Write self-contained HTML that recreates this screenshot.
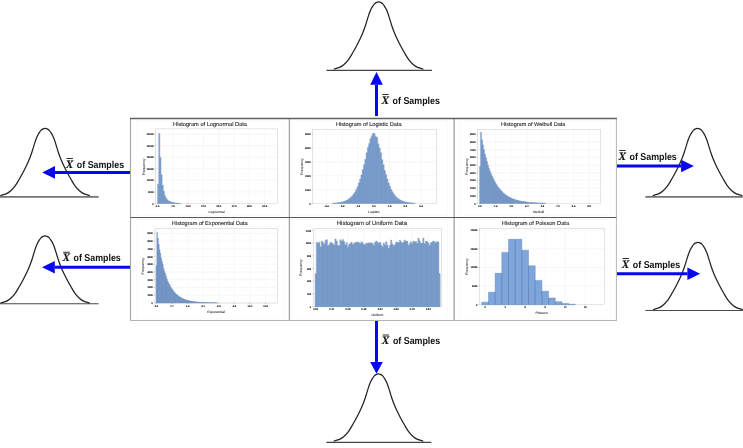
<!DOCTYPE html>
<html><head><meta charset="utf-8"><title>Central Limit Theorem diagram</title>
<style>html,body{margin:0;padding:0;background:#fff;overflow:hidden}svg{display:block}</style>
</head><body>
<svg width="743" height="448" viewBox="0 0 743 448" font-family='"Liberation Sans", sans-serif' text-rendering="geometricPrecision">
<defs><filter id="soft" x="0" y="0" width="100%" height="100%" filterUnits="userSpaceOnUse" color-interpolation-filters="sRGB"><feGaussianBlur stdDeviation="0.35"/></filter><filter id="soft2" x="0" y="0" width="100%" height="100%" filterUnits="userSpaceOnUse" color-interpolation-filters="sRGB"><feGaussianBlur stdDeviation="0.3"/></filter></defs>
<rect width="743" height="448" fill="#fff"/>
<g filter="url(#soft)">
<path d="M326.5 70.4H432" stroke="#444" stroke-width="1.1"/>
<path d="M334.3 69C335.18 68.73 337.98 68.15 339.6 67.4C341.22 66.65 342.52 65.8 344 64.5C345.48 63.2 347.05 61.55 348.5 59.6C349.95 57.65 351.37 55.07 352.7 52.8C354.03 50.53 355.3 48.25 356.5 46C357.7 43.75 358.83 41.55 359.9 39.3C360.97 37.05 361.98 34.77 362.9 32.5C363.82 30.23 364.63 27.97 365.4 25.7C366.17 23.43 366.97 20.62 367.5 18.9C368.03 17.18 368.23 16.52 368.6 15.4C368.97 14.28 369.28 13.27 369.7 12.2C370.12 11.13 370.58 10.02 371.1 9C371.62 7.98 372.25 6.95 372.8 6.1C373.35 5.25 373.85 4.48 374.4 3.9C374.95 3.32 375.4 2.93 376.1 2.6C376.8 2.27 377.77 1.9 378.6 1.9C379.43 1.9 380.4 2.27 381.1 2.6C381.8 2.93 382.25 3.32 382.8 3.9C383.35 4.48 383.85 5.25 384.4 6.1C384.95 6.95 385.58 7.98 386.1 9C386.62 10.02 387.08 11.13 387.5 12.2C387.92 13.27 388.23 14.28 388.6 15.4C388.97 16.52 389.17 17.18 389.7 18.9C390.23 20.62 391.03 23.43 391.8 25.7C392.57 27.97 393.38 30.23 394.3 32.5C395.22 34.77 396.23 37.05 397.3 39.3C398.37 41.55 399.5 43.75 400.7 46C401.9 48.25 403.17 50.53 404.5 52.8C405.83 55.07 407.25 57.65 408.7 59.6C410.15 61.55 411.72 63.2 413.2 64.5C414.68 65.8 415.98 66.65 417.6 67.4C419.22 68.15 422.02 68.73 422.9 69" fill="none" stroke="#222" stroke-width="1.25" stroke-linecap="round" stroke-linejoin="round"/>
<path d="M326.3 442.4H431.4" stroke="#444" stroke-width="1.1"/>
<path d="M334.2 441C335.08 440.73 337.88 440.15 339.5 439.4C341.12 438.65 342.42 437.8 343.9 436.5C345.38 435.2 346.95 433.55 348.4 431.6C349.85 429.65 351.27 427.07 352.6 424.8C353.93 422.53 355.2 420.25 356.4 418C357.6 415.75 358.73 413.55 359.8 411.3C360.87 409.05 361.88 406.77 362.8 404.5C363.72 402.23 364.53 399.97 365.3 397.7C366.07 395.43 366.87 392.62 367.4 390.9C367.93 389.18 368.13 388.52 368.5 387.4C368.87 386.28 369.18 385.27 369.6 384.2C370.02 383.13 370.48 382.02 371 381C371.52 379.98 372.15 378.95 372.7 378.1C373.25 377.25 373.75 376.48 374.3 375.9C374.85 375.32 375.3 374.93 376 374.6C376.7 374.27 377.67 373.9 378.5 373.9C379.33 373.9 380.3 374.27 381 374.6C381.7 374.93 382.15 375.32 382.7 375.9C383.25 376.48 383.75 377.25 384.3 378.1C384.85 378.95 385.48 379.98 386 381C386.52 382.02 386.98 383.13 387.4 384.2C387.82 385.27 388.13 386.28 388.5 387.4C388.87 388.52 389.07 389.18 389.6 390.9C390.13 392.62 390.93 395.43 391.7 397.7C392.47 399.97 393.28 402.23 394.2 404.5C395.12 406.77 396.13 409.05 397.2 411.3C398.27 413.55 399.4 415.75 400.6 418C401.8 420.25 403.07 422.53 404.4 424.8C405.73 427.07 407.15 429.65 408.6 431.6C410.05 433.55 411.62 435.2 413.1 436.5C414.58 437.8 415.88 438.65 417.5 439.4C419.12 440.15 421.92 440.73 422.8 441" fill="none" stroke="#222" stroke-width="1.25" stroke-linecap="round" stroke-linejoin="round"/>
<path d="M0 196.8H98.6" stroke="#747474" stroke-width="1.8"/>
<path d="M0.8 195.5C1.68 195.23 4.48 194.65 6.1 193.9C7.72 193.15 9.02 192.3 10.5 191C11.98 189.7 13.55 188.05 15 186.1C16.45 184.15 17.87 181.57 19.2 179.3C20.53 177.03 21.8 174.75 23 172.5C24.2 170.25 25.33 168.05 26.4 165.8C27.47 163.55 28.48 161.27 29.4 159C30.32 156.73 31.13 154.47 31.9 152.2C32.67 149.93 33.47 147.12 34 145.4C34.53 143.68 34.73 143.02 35.1 141.9C35.47 140.78 35.78 139.77 36.2 138.7C36.62 137.63 37.08 136.52 37.6 135.5C38.12 134.48 38.75 133.45 39.3 132.6C39.85 131.75 40.35 130.98 40.9 130.4C41.45 129.82 41.9 129.43 42.6 129.1C43.3 128.77 44.27 128.4 45.1 128.4C45.93 128.4 46.9 128.77 47.6 129.1C48.3 129.43 48.75 129.82 49.3 130.4C49.85 130.98 50.35 131.75 50.9 132.6C51.45 133.45 52.08 134.48 52.6 135.5C53.12 136.52 53.58 137.63 54 138.7C54.42 139.77 54.73 140.78 55.1 141.9C55.47 143.02 55.67 143.68 56.2 145.4C56.73 147.12 57.53 149.93 58.3 152.2C59.07 154.47 59.88 156.73 60.8 159C61.72 161.27 62.73 163.55 63.8 165.8C64.87 168.05 66 170.25 67.2 172.5C68.4 174.75 69.67 177.03 71 179.3C72.33 181.57 73.75 184.15 75.2 186.1C76.65 188.05 78.22 189.7 79.7 191C81.18 192.3 82.48 193.15 84.1 193.9C85.72 194.65 88.52 195.23 89.4 195.5" fill="none" stroke="#222" stroke-width="1.25" stroke-linecap="round" stroke-linejoin="round"/>
<path d="M0 303.8H98.6" stroke="#4a4a4a" stroke-width="1.1"/>
<path d="M0.8 303C1.68 302.73 4.48 302.15 6.1 301.4C7.72 300.65 9.02 299.8 10.5 298.5C11.98 297.2 13.55 295.55 15 293.6C16.45 291.65 17.87 289.07 19.2 286.8C20.53 284.53 21.8 282.25 23 280C24.2 277.75 25.33 275.55 26.4 273.3C27.47 271.05 28.48 268.77 29.4 266.5C30.32 264.23 31.13 261.97 31.9 259.7C32.67 257.43 33.47 254.62 34 252.9C34.53 251.18 34.73 250.52 35.1 249.4C35.47 248.28 35.78 247.27 36.2 246.2C36.62 245.13 37.08 244.02 37.6 243C38.12 241.98 38.75 240.95 39.3 240.1C39.85 239.25 40.35 238.48 40.9 237.9C41.45 237.32 41.9 236.93 42.6 236.6C43.3 236.27 44.27 235.9 45.1 235.9C45.93 235.9 46.9 236.27 47.6 236.6C48.3 236.93 48.75 237.32 49.3 237.9C49.85 238.48 50.35 239.25 50.9 240.1C51.45 240.95 52.08 241.98 52.6 243C53.12 244.02 53.58 245.13 54 246.2C54.42 247.27 54.73 248.28 55.1 249.4C55.47 250.52 55.67 251.18 56.2 252.9C56.73 254.62 57.53 257.43 58.3 259.7C59.07 261.97 59.88 264.23 60.8 266.5C61.72 268.77 62.73 271.05 63.8 273.3C64.87 275.55 66 277.75 67.2 280C68.4 282.25 69.67 284.53 71 286.8C72.33 289.07 73.75 291.65 75.2 293.6C76.65 295.55 78.22 297.2 79.7 298.5C81.18 299.8 82.48 300.65 84.1 301.4C85.72 302.15 88.52 302.73 89.4 303" fill="none" stroke="#222" stroke-width="1.25" stroke-linecap="round" stroke-linejoin="round"/>
<path d="M645.4 196.8H743" stroke="#747474" stroke-width="1.8"/>
<path d="M653.2 195.5C654.08 195.23 656.88 194.65 658.5 193.9C660.12 193.15 661.42 192.3 662.9 191C664.38 189.7 665.95 188.05 667.4 186.1C668.85 184.15 670.27 181.57 671.6 179.3C672.93 177.03 674.2 174.75 675.4 172.5C676.6 170.25 677.73 168.05 678.8 165.8C679.87 163.55 680.88 161.27 681.8 159C682.72 156.73 683.53 154.47 684.3 152.2C685.07 149.93 685.87 147.12 686.4 145.4C686.93 143.68 687.13 143.02 687.5 141.9C687.87 140.78 688.18 139.77 688.6 138.7C689.02 137.63 689.48 136.52 690 135.5C690.52 134.48 691.15 133.45 691.7 132.6C692.25 131.75 692.75 130.98 693.3 130.4C693.85 129.82 694.3 129.43 695 129.1C695.7 128.77 696.67 128.4 697.5 128.4C698.33 128.4 699.3 128.77 700 129.1C700.7 129.43 701.15 129.82 701.7 130.4C702.25 130.98 702.75 131.75 703.3 132.6C703.85 133.45 704.48 134.48 705 135.5C705.52 136.52 705.98 137.63 706.4 138.7C706.82 139.77 707.13 140.78 707.5 141.9C707.87 143.02 708.07 143.68 708.6 145.4C709.13 147.12 709.93 149.93 710.7 152.2C711.47 154.47 712.28 156.73 713.2 159C714.12 161.27 715.13 163.55 716.2 165.8C717.27 168.05 718.4 170.25 719.6 172.5C720.8 174.75 722.07 177.03 723.4 179.3C724.73 181.57 726.15 184.15 727.6 186.1C729.05 188.05 730.62 189.7 732.1 191C733.58 192.3 734.88 193.15 736.5 193.9C738.12 194.65 740.92 195.23 741.8 195.5" fill="none" stroke="#222" stroke-width="1.25" stroke-linecap="round" stroke-linejoin="round"/>
<path d="M645.4 310.5H743" stroke="#4a4a4a" stroke-width="1.1"/>
<path d="M653.6 309.5C654.48 309.23 657.28 308.65 658.9 307.9C660.52 307.15 661.82 306.3 663.3 305C664.78 303.7 666.35 302.05 667.8 300.1C669.25 298.15 670.67 295.57 672 293.3C673.33 291.03 674.6 288.75 675.8 286.5C677 284.25 678.13 282.05 679.2 279.8C680.27 277.55 681.28 275.27 682.2 273C683.12 270.73 683.93 268.47 684.7 266.2C685.47 263.93 686.27 261.12 686.8 259.4C687.33 257.68 687.53 257.02 687.9 255.9C688.27 254.78 688.58 253.77 689 252.7C689.42 251.63 689.88 250.52 690.4 249.5C690.92 248.48 691.55 247.45 692.1 246.6C692.65 245.75 693.15 244.98 693.7 244.4C694.25 243.82 694.7 243.43 695.4 243.1C696.1 242.77 697.07 242.4 697.9 242.4C698.73 242.4 699.7 242.77 700.4 243.1C701.1 243.43 701.55 243.82 702.1 244.4C702.65 244.98 703.15 245.75 703.7 246.6C704.25 247.45 704.88 248.48 705.4 249.5C705.92 250.52 706.38 251.63 706.8 252.7C707.22 253.77 707.53 254.78 707.9 255.9C708.27 257.02 708.47 257.68 709 259.4C709.53 261.12 710.33 263.93 711.1 266.2C711.87 268.47 712.68 270.73 713.6 273C714.52 275.27 715.53 277.55 716.6 279.8C717.67 282.05 718.8 284.25 720 286.5C721.2 288.75 722.47 291.03 723.8 293.3C725.13 295.57 726.55 298.15 728 300.1C729.45 302.05 731.02 303.7 732.5 305C733.98 306.3 735.28 307.15 736.9 307.9C738.52 308.65 741.32 309.23 742.2 309.5" fill="none" stroke="#222" stroke-width="1.25" stroke-linecap="round" stroke-linejoin="round"/>
<rect x="130.5" y="118.5" width="485.9" height="202.0" fill="#fff" stroke="none"/>
<rect x="136.2" y="120.5" width="147.3" height="95" fill="#fff" stroke="#f7f7f7" stroke-width="0.6"/>
<rect x="155.7" y="128.9" width="121.6" height="74.6" fill="#fff" stroke="#c8c8c8" stroke-width="0.5"/>
<path d="M157.6 128.9V203.5M172.9 128.9V203.5M188.2 128.9V203.5M203.5 128.9V203.5M218.8 128.9V203.5M234.1 128.9V203.5M249.4 128.9V203.5M264.7 128.9V203.5M155.7 203.5H277.3M155.7 191.93H277.3M155.7 180.37H277.3M155.7 168.8H277.3M155.7 157.23H277.3M155.7 145.67H277.3M155.7 134.1H277.3" stroke="#ededed" stroke-width="0.45" fill="none"/>
<path d="M157.6 203.5V184.3H158.75V203.5ZM158.75 203.5V133.41H159.9V203.5ZM159.9 203.5V157.46H161.05V203.5ZM161.05 203.5V174.81H162.2V203.5ZM162.2 203.5V185.22H163.35V203.5ZM163.35 203.5V191.35H164.5V203.5ZM164.5 203.5V195.63H165.65V203.5ZM165.65 203.5V198.18H166.8V203.5ZM166.8 203.5V199.68H167.95V203.5ZM167.95 203.5V200.72H169.1V203.5ZM169.1 203.5V201.42H170.25V203.5ZM170.25 203.5V201.88H171.4V203.5ZM171.4 203.5V202.23H172.55V203.5ZM172.55 203.5V202.51H173.7V203.5ZM173.7 203.5V202.71H174.85V203.5ZM174.85 203.5V202.88H176V203.5ZM176 203.5V203.01H177.15V203.5ZM177.15 203.5V203.11H178.3V203.5ZM178.3 203.5V203.19H179.45V203.5ZM179.45 203.5V203.26H180.6V203.5Z" fill="#86aad9" stroke="#6e8dbb" stroke-width="0.38" stroke-linejoin="miter"/>
<path d="M157.6 203.5v1M172.9 203.5v1M188.2 203.5v1M203.5 203.5v1M218.8 203.5v1M234.1 203.5v1M249.4 203.5v1M264.7 203.5v1M155.7 203.5h-1M155.7 191.93h-1M155.7 180.37h-1M155.7 168.8h-1M155.7 157.23h-1M155.7 145.67h-1M155.7 134.1h-1" stroke="#777" stroke-width="0.4" fill="none"/>
<g font-size="2.5" fill="#111" stroke="#111" stroke-width="0.1" font-weight="bold">
<text x="157.6" y="207" text-anchor="middle">0.0</text>
<text x="172.9" y="207" text-anchor="middle">7.5</text>
<text x="188.2" y="207" text-anchor="middle">15.0</text>
<text x="203.5" y="207" text-anchor="middle">22.5</text>
<text x="218.8" y="207" text-anchor="middle">30.0</text>
<text x="234.1" y="207" text-anchor="middle">37.5</text>
<text x="249.4" y="207" text-anchor="middle">45.0</text>
<text x="264.7" y="207" text-anchor="middle">52.5</text>
<text x="153.7" y="204.5" text-anchor="end">0</text>
<text x="153.7" y="192.93" text-anchor="end">5000</text>
<text x="153.7" y="181.37" text-anchor="end">10000</text>
<text x="153.7" y="169.8" text-anchor="end">15000</text>
<text x="153.7" y="158.23" text-anchor="end">20000</text>
<text x="153.7" y="146.67" text-anchor="end">25000</text>
<text x="153.7" y="135.1" text-anchor="end">30000</text>
</g>
<text x="210" y="126" text-anchor="middle" font-size="5.66" fill="#2e2e2e" stroke="#2e2e2e" stroke-width="0.12">Histogram of Lognormal Data</text>
<text x="216.5" y="213.2" text-anchor="middle" font-size="3.4" fill="#222" stroke="#222" stroke-width="0.06">Lognormal</text>
<text transform="translate(144.6 166.8) rotate(-90)" text-anchor="middle" font-size="3.55" fill="#222" stroke="#222" stroke-width="0.06">Frequency</text>
<rect x="292.5" y="120.5" width="155" height="95" fill="#fff" stroke="#f7f7f7" stroke-width="0.6"/>
<rect x="312.6" y="129.2" width="123.7" height="74.2" fill="#fff" stroke="#c8c8c8" stroke-width="0.5"/>
<path d="M326.49 129.2V203.4M342.26 129.2V203.4M358.03 129.2V203.4M373.8 129.2V203.4M389.57 129.2V203.4M405.34 129.2V203.4M421.11 129.2V203.4M312.6 203.5H436.3M312.6 189.62H436.3M312.6 175.74H436.3M312.6 161.86H436.3M312.6 147.98H436.3M312.6 134.1H436.3" stroke="#ededed" stroke-width="0.45" fill="none"/>
<path d="M332.35 203.4V203.16H333.64V203.4ZM333.64 203.4V203.07H334.94V203.4ZM334.94 203.4V202.98H336.23V203.4ZM336.23 203.4V202.86H337.53V203.4ZM337.53 203.4V202.7H338.82V203.4ZM338.82 203.4V202.54H340.12V203.4ZM340.12 203.4V202.28H341.42V203.4ZM341.42 203.4V202.02H342.71V203.4ZM342.71 203.4V201.69H344.01V203.4ZM344.01 203.4V201.27H345.3V203.4ZM345.3 203.4V200.73H346.6V203.4ZM346.6 203.4V200.02H347.89V203.4ZM347.89 203.4V199.32H349.19V203.4ZM349.19 203.4V198.29H350.48V203.4ZM350.48 203.4V197.09H351.78V203.4ZM351.78 203.4V195.74H353.07V203.4ZM353.07 203.4V193.97H354.37V203.4ZM354.37 203.4V192.13H355.66V203.4ZM355.66 203.4V189.71H356.96V203.4ZM356.96 203.4V186.77H358.26V203.4ZM358.26 203.4V183.04H359.55V203.4ZM359.55 203.4V179.35H360.85V203.4ZM360.85 203.4V175.08H362.14V203.4ZM362.14 203.4V169.84H363.44V203.4ZM363.44 203.4V164.7H364.73V203.4ZM364.73 203.4V159.39H366.03V203.4ZM366.03 203.4V152.77H367.32V203.4ZM367.32 203.4V147.44H368.62V203.4ZM368.62 203.4V143.53H369.91V203.4ZM369.91 203.4V138.6H371.21V203.4ZM371.21 203.4V135.77H372.5V203.4ZM372.5 203.4V133.26H373.8V203.4ZM373.8 203.4V133.66H375.1V203.4ZM375.1 203.4V136.41H376.39V203.4ZM376.39 203.4V137.55H377.69V203.4ZM377.69 203.4V143.84H378.98V203.4ZM378.98 203.4V148.06H380.28V203.4ZM380.28 203.4V152.84H381.57V203.4ZM381.57 203.4V159.65H382.87V203.4ZM382.87 203.4V164.65H384.16V203.4ZM384.16 203.4V170.57H385.46V203.4ZM385.46 203.4V174.67H386.75V203.4ZM386.75 203.4V179.03H388.05V203.4ZM388.05 203.4V183.12H389.34V203.4ZM389.34 203.4V186.31H390.64V203.4ZM390.64 203.4V189.57H391.94V203.4ZM391.94 203.4V191.83H393.23V203.4ZM393.23 203.4V193.95H394.53V203.4ZM394.53 203.4V195.68H395.82V203.4ZM395.82 203.4V197.14H397.12V203.4ZM397.12 203.4V198.23H398.41V203.4ZM398.41 203.4V199.19H399.71V203.4ZM399.71 203.4V200.06H401V203.4ZM401 203.4V200.69H402.3V203.4ZM402.3 203.4V201.27H403.59V203.4ZM403.59 203.4V201.65H404.89V203.4ZM404.89 203.4V202H406.18V203.4ZM406.18 203.4V202.27H407.48V203.4ZM407.48 203.4V202.51H408.78V203.4ZM408.78 203.4V202.72H410.07V203.4ZM410.07 203.4V202.86H411.37V203.4ZM411.37 203.4V202.98H412.66V203.4ZM412.66 203.4V203.09H413.96V203.4ZM413.96 203.4V203.16H415.25V203.4Z" fill="#86aad9" stroke="#6e8dbb" stroke-width="0.38" stroke-linejoin="miter"/>
<path d="M326.49 203.4v1M342.26 203.4v1M358.03 203.4v1M373.8 203.4v1M389.57 203.4v1M405.34 203.4v1M421.11 203.4v1M312.6 203.5h-1M312.6 189.62h-1M312.6 175.74h-1M312.6 161.86h-1M312.6 147.98h-1M312.6 134.1h-1" stroke="#777" stroke-width="0.4" fill="none"/>
<g font-size="2.5" fill="#111" stroke="#111" stroke-width="0.1" font-weight="bold">
<text x="326.49" y="206.9" text-anchor="middle">-8.4</text>
<text x="342.26" y="206.9" text-anchor="middle">-5.6</text>
<text x="358.03" y="206.9" text-anchor="middle">-2.8</text>
<text x="373.8" y="206.9" text-anchor="middle">0.0</text>
<text x="389.57" y="206.9" text-anchor="middle">2.8</text>
<text x="405.34" y="206.9" text-anchor="middle">5.6</text>
<text x="421.11" y="206.9" text-anchor="middle">8.4</text>
<text x="310.6" y="204.5" text-anchor="end">0</text>
<text x="310.6" y="190.62" text-anchor="end">1000</text>
<text x="310.6" y="176.74" text-anchor="end">2000</text>
<text x="310.6" y="162.86" text-anchor="end">3000</text>
<text x="310.6" y="148.98" text-anchor="end">4000</text>
<text x="310.6" y="135.1" text-anchor="end">5000</text>
</g>
<text x="368.8" y="126" text-anchor="middle" font-size="5.6" fill="#2e2e2e" stroke="#2e2e2e" stroke-width="0.12">Histogram of Logistic Data</text>
<text x="374" y="213.2" text-anchor="middle" font-size="3.4" fill="#222" stroke="#222" stroke-width="0.06">Logistic</text>
<text transform="translate(302.5 166.5) rotate(-90)" text-anchor="middle" font-size="3.55" fill="#222" stroke="#222" stroke-width="0.06">Frequency</text>
<rect x="459.5" y="120.5" width="151" height="95" fill="#fff" stroke="#f7f7f7" stroke-width="0.6"/>
<rect x="477.6" y="129.4" width="122.8" height="74" fill="#fff" stroke="#c8c8c8" stroke-width="0.5"/>
<path d="M480 129.4V203.4M495.6 129.4V203.4M511.2 129.4V203.4M526.8 129.4V203.4M542.4 129.4V203.4M558 129.4V203.4M573.6 129.4V203.4M589.2 129.4V203.4M477.6 203.5H600.4M477.6 195.79H600.4M477.6 188.08H600.4M477.6 180.37H600.4M477.6 172.66H600.4M477.6 164.94H600.4M477.6 157.23H600.4M477.6 149.52H600.4M477.6 141.81H600.4M477.6 134.1H600.4" stroke="#ededed" stroke-width="0.45" fill="none"/>
<path d="M479.5 203.4V166.49H480.5V203.4ZM480.5 203.4V132.37H481.5V203.4ZM481.5 203.4V139.72H482.51V203.4ZM482.51 203.4V144.86H483.51V203.4ZM483.51 203.4V149.55H484.51V203.4ZM484.51 203.4V153.94H485.52V203.4ZM485.52 203.4V157.62H486.52V203.4ZM486.52 203.4V161.23H487.52V203.4ZM487.52 203.4V165.05H488.52V203.4ZM488.52 203.4V168.45H489.53V203.4ZM489.53 203.4V170.9H490.53V203.4ZM490.53 203.4V173.6H491.53V203.4ZM491.53 203.4V175.87H492.54V203.4ZM492.54 203.4V177.82H493.54V203.4ZM493.54 203.4V180.1H494.54V203.4ZM494.54 203.4V182.11H495.54V203.4ZM495.54 203.4V183.79H496.55V203.4ZM496.55 203.4V185.37H497.55V203.4ZM497.55 203.4V187.15H498.55V203.4ZM498.55 203.4V188.1H499.56V203.4ZM499.56 203.4V189.4H500.56V203.4ZM500.56 203.4V190.51H501.56V203.4ZM501.56 203.4V191.6H502.56V203.4ZM502.56 203.4V192.7H503.57V203.4ZM503.57 203.4V193.57H504.57V203.4ZM504.57 203.4V194.46H505.57V203.4ZM505.57 203.4V195.07H506.58V203.4ZM506.58 203.4V195.88H507.58V203.4ZM507.58 203.4V196.5H508.58V203.4ZM508.58 203.4V197.05H509.58V203.4ZM509.58 203.4V197.58H510.59V203.4ZM510.59 203.4V198.03H511.59V203.4ZM511.59 203.4V198.52H512.59V203.4ZM512.59 203.4V198.93H513.6V203.4ZM513.6 203.4V199.29H514.6V203.4ZM514.6 203.4V199.63H515.6V203.4ZM515.6 203.4V199.92H516.6V203.4ZM516.6 203.4V200.25H517.61V203.4ZM517.61 203.4V200.43H518.61V203.4ZM518.61 203.4V200.7H519.61V203.4ZM519.61 203.4V200.97H520.62V203.4ZM520.62 203.4V201.17H521.62V203.4ZM521.62 203.4V201.35H522.62V203.4ZM522.62 203.4V201.52H523.62V203.4ZM523.62 203.4V201.7H524.63V203.4ZM524.63 203.4V201.81H525.63V203.4ZM525.63 203.4V201.94H526.63V203.4ZM526.63 203.4V202.09H527.64V203.4ZM527.64 203.4V202.2H528.64V203.4ZM528.64 203.4V202.32H529.64V203.4ZM529.64 203.4V202.42H530.64V203.4ZM530.64 203.4V202.5H531.65V203.4ZM531.65 203.4V202.58H532.65V203.4ZM532.65 203.4V202.64H533.65V203.4ZM533.65 203.4V202.73H534.66V203.4ZM534.66 203.4V202.79H535.66V203.4ZM535.66 203.4V202.83H536.66V203.4ZM536.66 203.4V202.9H537.66V203.4ZM537.66 203.4V202.95H538.67V203.4ZM538.67 203.4V202.99H539.67V203.4ZM539.67 203.4V203.04H540.67V203.4ZM540.67 203.4V203.07H541.68V203.4ZM541.68 203.4V203.1H542.68V203.4ZM542.68 203.4V203.13H543.68V203.4ZM543.68 203.4V203.16H544.68V203.4ZM544.68 203.4V203.2H545.69V203.4Z" fill="#86aad9" stroke="#6e8dbb" stroke-width="0.38" stroke-linejoin="miter"/>
<path d="M480 203.4v1M495.6 203.4v1M511.2 203.4v1M526.8 203.4v1M542.4 203.4v1M558 203.4v1M573.6 203.4v1M589.2 203.4v1M477.6 203.5h-1M477.6 195.79h-1M477.6 188.08h-1M477.6 180.37h-1M477.6 172.66h-1M477.6 164.94h-1M477.6 157.23h-1M477.6 149.52h-1M477.6 141.81h-1M477.6 134.1h-1" stroke="#777" stroke-width="0.4" fill="none"/>
<g font-size="2.5" fill="#111" stroke="#111" stroke-width="0.1" font-weight="bold">
<text x="480" y="206.9" text-anchor="middle">0.0</text>
<text x="495.6" y="206.9" text-anchor="middle">1.4</text>
<text x="511.2" y="206.9" text-anchor="middle">2.8</text>
<text x="526.8" y="206.9" text-anchor="middle">4.2</text>
<text x="542.4" y="206.9" text-anchor="middle">5.6</text>
<text x="558" y="206.9" text-anchor="middle">7.0</text>
<text x="573.6" y="206.9" text-anchor="middle">8.4</text>
<text x="589.2" y="206.9" text-anchor="middle">9.8</text>
<text x="475.6" y="204.5" text-anchor="end">0</text>
<text x="475.6" y="196.79" text-anchor="end">1000</text>
<text x="475.6" y="189.08" text-anchor="end">2000</text>
<text x="475.6" y="181.37" text-anchor="end">3000</text>
<text x="475.6" y="173.66" text-anchor="end">4000</text>
<text x="475.6" y="165.94" text-anchor="end">5000</text>
<text x="475.6" y="158.23" text-anchor="end">6000</text>
<text x="475.6" y="150.52" text-anchor="end">7000</text>
<text x="475.6" y="142.81" text-anchor="end">8000</text>
<text x="475.6" y="135.1" text-anchor="end">9000</text>
</g>
<text x="533.2" y="126" text-anchor="middle" font-size="5.56" fill="#2e2e2e" stroke="#2e2e2e" stroke-width="0.12">Histogram of Weibull Data</text>
<text x="538.5" y="213.2" text-anchor="middle" font-size="3.4" fill="#222" stroke="#222" stroke-width="0.06">Weibull</text>
<text transform="translate(467.5 166.5) rotate(-90)" text-anchor="middle" font-size="3.55" fill="#222" stroke="#222" stroke-width="0.06">Frequency</text>
<rect x="136.2" y="219.5" width="147.3" height="99" fill="#fff" stroke="#f7f7f7" stroke-width="0.6"/>
<rect x="155" y="228.5" width="122.3" height="74.5" fill="#fff" stroke="#c8c8c8" stroke-width="0.5"/>
<path d="M156.4 228.5V303M172 228.5V303M187.6 228.5V303M203.2 228.5V303M218.8 228.5V303M234.4 228.5V303M250 228.5V303M265.6 228.5V303M155 302.9H277.3M155 295.18H277.3M155 287.46H277.3M155 279.73H277.3M155 272.01H277.3M155 264.29H277.3M155 256.57H277.3M155 248.84H277.3M155 241.12H277.3M155 233.4H277.3" stroke="#ededed" stroke-width="0.45" fill="none"/>
<path d="M156 303V265.83H156.8V303ZM156.8 303V232.42H157.61V303ZM157.61 303V238.42H158.42V303ZM158.42 303V244.33H159.23V303ZM159.23 303V249.75H160.03V303ZM160.03 303V253.32H160.84V303ZM160.84 303V258.12H161.65V303ZM161.65 303V261.31H162.46V303ZM162.46 303V264.62H163.26V303ZM163.26 303V268.44H164.07V303ZM164.07 303V271.34H164.88V303ZM164.88 303V273.52H165.69V303ZM165.69 303V276.18H166.49V303ZM166.49 303V278.83H167.3V303ZM167.3 303V280.89H168.11V303ZM168.11 303V282.73H168.92V303ZM168.92 303V284H169.72V303ZM169.72 303V285.65H170.53V303ZM170.53 303V287.41H171.34V303ZM171.34 303V288.42H172.15V303ZM172.15 303V289.58H172.95V303ZM172.95 303V290.82H173.76V303ZM173.76 303V291.94H174.57V303ZM174.57 303V292.8H175.38V303ZM175.38 303V293.77H176.18V303ZM176.18 303V294.57H176.99V303ZM176.99 303V295.05H177.8V303ZM177.8 303V295.78H178.61V303ZM178.61 303V296.4H179.41V303ZM179.41 303V296.88H180.22V303ZM180.22 303V297.46H181.03V303ZM181.03 303V297.86H181.84V303ZM181.84 303V298.29H182.64V303ZM182.64 303V298.75H183.45V303ZM183.45 303V299.1H184.26V303ZM184.26 303V299.41H185.07V303ZM185.07 303V299.71H185.87V303ZM185.87 303V299.95H186.68V303ZM186.68 303V300.23H187.49V303ZM187.49 303V300.44H188.3V303ZM188.3 303V300.67H189.1V303ZM189.1 303V300.81H189.91V303ZM189.91 303V301.01H190.72V303ZM190.72 303V301.17H191.53V303ZM191.53 303V301.31H192.34V303ZM192.34 303V301.43H193.14V303ZM193.14 303V301.57H193.95V303ZM193.95 303V301.66H194.76V303ZM194.76 303V301.78H195.57V303ZM195.57 303V301.88H196.37V303ZM196.37 303V301.96H197.18V303ZM197.18 303V302.05H197.99V303ZM197.99 303V302.12H198.8V303ZM198.8 303V302.19H199.6V303ZM199.6 303V302.25H200.41V303ZM200.41 303V302.29H201.22V303ZM201.22 303V302.35H202.03V303ZM202.03 303V302.39H202.83V303ZM202.83 303V302.43H203.64V303ZM203.64 303V302.47H204.45V303ZM204.45 303V302.51H205.26V303ZM205.26 303V302.54H206.06V303ZM206.06 303V302.57H206.87V303ZM206.87 303V302.6H207.68V303ZM207.68 303V302.63H208.49V303ZM208.49 303V302.65H209.29V303ZM209.29 303V302.67H210.1V303ZM210.1 303V302.69H210.91V303ZM210.91 303V302.71H211.72V303ZM211.72 303V302.72H212.52V303ZM212.52 303V302.74H213.33V303ZM213.33 303V302.75H214.14V303ZM214.14 303V302.76H214.95V303ZM214.95 303V302.78H215.75V303ZM215.75 303V302.79H216.56V303ZM216.56 303V302.8H217.37V303Z" fill="#86aad9" stroke="#6e8dbb" stroke-width="0.38" stroke-linejoin="miter"/>
<path d="M156.4 303v1M172 303v1M187.6 303v1M203.2 303v1M218.8 303v1M234.4 303v1M250 303v1M265.6 303v1M155 302.9h-1M155 295.18h-1M155 287.46h-1M155 279.73h-1M155 272.01h-1M155 264.29h-1M155 256.57h-1M155 248.84h-1M155 241.12h-1M155 233.4h-1" stroke="#777" stroke-width="0.4" fill="none"/>
<g font-size="2.5" fill="#111" stroke="#111" stroke-width="0.1" font-weight="bold">
<text x="156.4" y="306.5" text-anchor="middle">0.0</text>
<text x="172" y="306.5" text-anchor="middle">1.7</text>
<text x="187.6" y="306.5" text-anchor="middle">3.4</text>
<text x="203.2" y="306.5" text-anchor="middle">5.1</text>
<text x="218.8" y="306.5" text-anchor="middle">6.8</text>
<text x="234.4" y="306.5" text-anchor="middle">8.5</text>
<text x="250" y="306.5" text-anchor="middle">10.2</text>
<text x="265.6" y="306.5" text-anchor="middle">11.9</text>
<text x="153" y="303.9" text-anchor="end">0</text>
<text x="153" y="296.18" text-anchor="end">1000</text>
<text x="153" y="288.46" text-anchor="end">2000</text>
<text x="153" y="280.73" text-anchor="end">3000</text>
<text x="153" y="273.01" text-anchor="end">4000</text>
<text x="153" y="265.29" text-anchor="end">5000</text>
<text x="153" y="257.57" text-anchor="end">6000</text>
<text x="153" y="249.84" text-anchor="end">7000</text>
<text x="153" y="242.12" text-anchor="end">8000</text>
<text x="153" y="234.4" text-anchor="end">9000</text>
</g>
<text x="209.8" y="225" text-anchor="middle" font-size="5.6" fill="#2e2e2e" stroke="#2e2e2e" stroke-width="0.12">Histogram of Exponential Data</text>
<text x="216" y="312.6" text-anchor="middle" font-size="3.4" fill="#222" stroke="#222" stroke-width="0.06">Exponential</text>
<text transform="translate(143.5 266) rotate(-90)" text-anchor="middle" font-size="3.55" fill="#222" stroke="#222" stroke-width="0.06">Frequency</text>
<rect x="292.5" y="219.5" width="155" height="99" fill="#fff" stroke="#f7f7f7" stroke-width="0.6"/>
<rect x="313.2" y="228.4" width="128.3" height="78.3" fill="#fff" stroke="#c8c8c8" stroke-width="0.5"/>
<path d="M315.7 228.4V306.7M331.8 228.4V306.7M347.9 228.4V306.7M364 228.4V306.7M380.1 228.4V306.7M396.2 228.4V306.7M412.3 228.4V306.7M428.4 228.4V306.7M313.2 306.6H441.5M313.2 293.92H441.5M313.2 281.23H441.5M313.2 268.55H441.5M313.2 255.87H441.5M313.2 243.18H441.5M313.2 230.5H441.5" stroke="#ededed" stroke-width="0.45" fill="none"/>
<path d="M315.08 306.7V273.62H316.32V306.7ZM316.32 306.7V242.34H317.56V306.7ZM317.56 306.7V243.32H318.8V306.7ZM318.8 306.7V242.16H320.03V306.7ZM320.03 306.7V247.01H321.27V306.7ZM321.27 306.7V241.15H322.51V306.7ZM322.51 306.7V242.54H323.75V306.7ZM323.75 306.7V244.56H324.99V306.7ZM324.99 306.7V240.58H326.23V306.7ZM326.23 306.7V239.63H327.47V306.7ZM327.47 306.7V245.94H328.7V306.7ZM328.7 306.7V244.49H329.94V306.7ZM329.94 306.7V242.61H331.18V306.7ZM331.18 306.7V242.82H332.42V306.7ZM332.42 306.7V243.97H333.66V306.7ZM333.66 306.7V245.1H334.9V306.7ZM334.9 306.7V239.01H336.13V306.7ZM336.13 306.7V241.14H337.37V306.7ZM337.37 306.7V245.53H338.61V306.7ZM338.61 306.7V245.83H339.85V306.7ZM339.85 306.7V239.84H341.09V306.7ZM341.09 306.7V241.24H342.33V306.7ZM342.33 306.7V239.6H343.57V306.7ZM343.57 306.7V241.59H344.8V306.7ZM344.8 306.7V244.9H346.04V306.7ZM346.04 306.7V242.67H347.28V306.7ZM347.28 306.7V247.43H348.52V306.7ZM348.52 306.7V244.65H349.76V306.7ZM349.76 306.7V243.3H351V306.7ZM351 306.7V242.16H352.23V306.7ZM352.23 306.7V244.61H353.47V306.7ZM353.47 306.7V243.43H354.71V306.7ZM354.71 306.7V242.28H355.95V306.7ZM355.95 306.7V242.44H357.19V306.7ZM357.19 306.7V241.93H358.43V306.7ZM358.43 306.7V242.77H359.67V306.7ZM359.67 306.7V243.82H360.9V306.7ZM360.9 306.7V241.63H362.14V306.7ZM362.14 306.7V243.09H363.38V306.7ZM363.38 306.7V244.81H364.62V306.7ZM364.62 306.7V244.41H365.86V306.7ZM365.86 306.7V243.18H367.1V306.7ZM367.1 306.7V243.4H368.33V306.7ZM368.33 306.7V242.87H369.57V306.7ZM369.57 306.7V243.18H370.81V306.7ZM370.81 306.7V242.84H372.05V306.7ZM372.05 306.7V243.45H373.29V306.7ZM373.29 306.7V245.66H374.53V306.7ZM374.53 306.7V242.35H375.77V306.7ZM375.77 306.7V241.11H377V306.7ZM377 306.7V242.33H378.24V306.7ZM378.24 306.7V243.56H379.48V306.7ZM379.48 306.7V242.31H380.72V306.7ZM380.72 306.7V245.08H381.96V306.7ZM381.96 306.7V246.91H383.2V306.7ZM383.2 306.7V243.07H384.43V306.7ZM384.43 306.7V245.01H385.67V306.7ZM385.67 306.7V241.73H386.91V306.7ZM386.91 306.7V245.31H388.15V306.7ZM388.15 306.7V248.35H389.39V306.7ZM389.39 306.7V245.23H390.63V306.7ZM390.63 306.7V240.08H391.87V306.7ZM391.87 306.7V243.93H393.1V306.7ZM393.1 306.7V245.88H394.34V306.7ZM394.34 306.7V244.68H395.58V306.7ZM395.58 306.7V242.16H396.82V306.7ZM396.82 306.7V242.21H398.06V306.7ZM398.06 306.7V242.84H399.3V306.7ZM399.3 306.7V240.27H400.53V306.7ZM400.53 306.7V241.79H401.77V306.7ZM401.77 306.7V243.22H403.01V306.7ZM403.01 306.7V242.01H404.25V306.7ZM404.25 306.7V239.93H405.49V306.7ZM405.49 306.7V241.27H406.73V306.7ZM406.73 306.7V241.17H407.97V306.7ZM407.97 306.7V245.31H409.2V306.7ZM409.2 306.7V243.48H410.44V306.7ZM410.44 306.7V241.75H411.68V306.7ZM411.68 306.7V243.77H412.92V306.7ZM412.92 306.7V241.08H414.16V306.7ZM414.16 306.7V242.01H415.4V306.7ZM415.4 306.7V241.4H416.63V306.7ZM416.63 306.7V243.6H417.87V306.7ZM417.87 306.7V238.18H419.11V306.7ZM419.11 306.7V240.75H420.35V306.7ZM420.35 306.7V243.61H421.59V306.7ZM421.59 306.7V243.01H422.83V306.7ZM422.83 306.7V238.08H424.07V306.7ZM424.07 306.7V243.86H425.3V306.7ZM425.3 306.7V241.46H426.54V306.7ZM426.54 306.7V241.26H427.78V306.7ZM427.78 306.7V243.17H429.02V306.7ZM429.02 306.7V245.48H430.26V306.7ZM430.26 306.7V242.81H431.5V306.7ZM431.5 306.7V242.48H432.73V306.7ZM432.73 306.7V240.96H433.97V306.7ZM433.97 306.7V241.64H435.21V306.7ZM435.21 306.7V243.14H436.45V306.7ZM436.45 306.7V241.51H437.69V306.7ZM437.69 306.7V242.12H438.93V306.7ZM438.93 306.7V273.62H440.17V306.7Z" fill="#86aad9" stroke="#6e8dbb" stroke-width="0.38" stroke-linejoin="miter"/>
<path d="M315.7 306.7v1M331.8 306.7v1M347.9 306.7v1M364 306.7v1M380.1 306.7v1M396.2 306.7v1M412.3 306.7v1M428.4 306.7v1M313.2 306.6h-1M313.2 293.92h-1M313.2 281.23h-1M313.2 268.55h-1M313.2 255.87h-1M313.2 243.18h-1M313.2 230.5h-1" stroke="#777" stroke-width="0.4" fill="none"/>
<g font-size="2.5" fill="#111" stroke="#111" stroke-width="0.1" font-weight="bold">
<text x="315.7" y="310.2" text-anchor="middle">0.00</text>
<text x="331.8" y="310.2" text-anchor="middle">0.13</text>
<text x="347.9" y="310.2" text-anchor="middle">0.26</text>
<text x="364" y="310.2" text-anchor="middle">0.39</text>
<text x="380.1" y="310.2" text-anchor="middle">0.52</text>
<text x="396.2" y="310.2" text-anchor="middle">0.65</text>
<text x="412.3" y="310.2" text-anchor="middle">0.78</text>
<text x="428.4" y="310.2" text-anchor="middle">0.91</text>
<text x="311.2" y="307.6" text-anchor="end">0</text>
<text x="311.2" y="294.92" text-anchor="end">200</text>
<text x="311.2" y="282.23" text-anchor="end">400</text>
<text x="311.2" y="269.55" text-anchor="end">600</text>
<text x="311.2" y="256.87" text-anchor="end">800</text>
<text x="311.2" y="244.18" text-anchor="end">1000</text>
<text x="311.2" y="231.5" text-anchor="end">1200</text>
</g>
<text x="371.9" y="225.1" text-anchor="middle" font-size="5.93" fill="#2e2e2e" stroke="#2e2e2e" stroke-width="0.12">Histogram of Uniform Data</text>
<text x="377.5" y="316.2" text-anchor="middle" font-size="3.4" fill="#222" stroke="#222" stroke-width="0.06">Uniform</text>
<text transform="translate(302 267.5) rotate(-90)" text-anchor="middle" font-size="3.55" fill="#222" stroke="#222" stroke-width="0.06">Frequency</text>
<rect x="459.5" y="219.5" width="151" height="99" fill="#fff" stroke="#f7f7f7" stroke-width="0.6"/>
<rect x="479.5" y="228.5" width="124.8" height="76.2" fill="#fff" stroke="#c8c8c8" stroke-width="0.5"/>
<path d="M485.1 228.5V304.7M505.15 228.5V304.7M525.2 228.5V304.7M545.25 228.5V304.7M565.3 228.5V304.7M585.35 228.5V304.7M479.5 304.7H604.3M479.5 286.07H604.3M479.5 267.45H604.3M479.5 248.82H604.3M479.5 230.2H604.3" stroke="#ededed" stroke-width="0.45" fill="none"/>
<path d="M481.76 304.7V302.19H488.44V304.7ZM488.44 304.7V292.15H495.12V304.7ZM495.12 304.7V273.33H501.81V304.7ZM501.81 304.7V252.41H508.49V304.7ZM508.49 304.7V239.34H515.18V304.7ZM515.18 304.7V239.34H521.86V304.7ZM521.86 304.7V250.23H528.54V304.7ZM528.54 304.7V265.79H535.23V304.7ZM535.23 304.7V280.38H541.91V304.7ZM541.91 304.7V291.19H548.59V304.7ZM548.59 304.7V297.95H555.27V304.7ZM555.27 304.7V301.63H561.96V304.7ZM561.96 304.7V303.42H568.64V304.7ZM568.64 304.7V304.21H575.33V304.7Z" fill="#7ea6db" stroke="#5b7eb5" stroke-width="0.4" stroke-linejoin="miter"/>
<path d="M485.1 304.7v1M505.15 304.7v1M525.2 304.7v1M545.25 304.7v1M565.3 304.7v1M585.35 304.7v1M479.5 304.7h-1M479.5 286.07h-1M479.5 267.45h-1M479.5 248.82h-1M479.5 230.2h-1" stroke="#777" stroke-width="0.4" fill="none"/>
<g font-size="2.5" fill="#111" stroke="#111" stroke-width="0.1" font-weight="bold">
<text x="485.1" y="308.2" text-anchor="middle">0</text>
<text x="505.15" y="308.2" text-anchor="middle">3</text>
<text x="525.2" y="308.2" text-anchor="middle">6</text>
<text x="545.25" y="308.2" text-anchor="middle">9</text>
<text x="565.3" y="308.2" text-anchor="middle">12</text>
<text x="585.35" y="308.2" text-anchor="middle">15</text>
<text x="477.5" y="305.7" text-anchor="end">0</text>
<text x="477.5" y="287.07" text-anchor="end">5000</text>
<text x="477.5" y="268.45" text-anchor="end">10000</text>
<text x="477.5" y="249.82" text-anchor="end">15000</text>
<text x="477.5" y="231.2" text-anchor="end">20000</text>
</g>
<text x="535.4" y="225" text-anchor="middle" font-size="5.66" fill="#2e2e2e" stroke="#2e2e2e" stroke-width="0.12">Histogram of Poisson Data</text>
<text x="541.5" y="314.3" text-anchor="middle" font-size="3.4" fill="#222" stroke="#222" stroke-width="0.06">Poisson</text>
<text transform="translate(467.5 266.5) rotate(-90)" text-anchor="middle" font-size="3.55" fill="#222" stroke="#222" stroke-width="0.06">Frequency</text>
<path d="M289.4 118.5V320.5 M454.1 118.5V320.5" stroke="#a2a2a2" stroke-width="1.3" fill="none"/>
<path d="M616.4 118.5V321.0 M130.5 320.5H616.4" stroke="#b4b4b4" stroke-width="1" fill="none"/>
<path d="M130.5 118.5V320.5" stroke="#a4a4a4" stroke-width="1.1" fill="none"/>
<path d="M130.5 217.5H616.4" stroke="#585858" stroke-width="1" fill="none"/>
<path d="M130.0 118.5H616.9" stroke="#606060" stroke-width="1.3" fill="none"/>
<path d="M376.5 116L376.5 84.8" stroke="#0606f0" stroke-width="3.0" fill="none"/>
<path d="M376.5 72L382.8 84.8L370.2 84.8Z" fill="#0606f0"/>
<path d="M376.5 321L376.5 361.9" stroke="#0606f0" stroke-width="3.0" fill="none"/>
<path d="M376.5 373.7L370.2 361.9L382.8 361.9Z" fill="#0606f0"/>
<path d="M130 172.4L55 172.4" stroke="#0606f0" stroke-width="3.0" fill="none"/>
<path d="M42.2 172.4L55 166.1L55 178.7Z" fill="#0606f0"/>
<path d="M130 267.3L54.8 267.3" stroke="#0606f0" stroke-width="3.0" fill="none"/>
<path d="M42 267.3L54.8 261L54.8 273.6Z" fill="#0606f0"/>
<path d="M617 166L681.1 166" stroke="#0606f0" stroke-width="3.0" fill="none"/>
<path d="M693.9 166L681.1 172.3L681.1 159.7Z" fill="#0606f0"/>
<path d="M617 273.8L687.4 273.8" stroke="#0606f0" stroke-width="3.0" fill="none"/>
<path d="M700.2 273.8L687.4 280.1L687.4 267.5Z" fill="#0606f0"/>
<g font-weight="bold" fill="#111"><text x="381.5" y="103.6" font-family='"Liberation Serif", serif' font-style="italic" font-size="11.3" stroke="#111" stroke-width="0.12">X</text><rect x="382.3" y="93.95" width="6.4" height="0.95" fill="#222"/><text x="392.6" y="103.6" font-size="9.9" textLength="47.3" lengthAdjust="spacingAndGlyphs">of Samples</text></g>
<g font-weight="bold" fill="#111"><text x="381.8" y="344.2" font-family='"Liberation Serif", serif' font-style="italic" font-size="11.3" stroke="#111" stroke-width="0.12">X</text><rect x="382.6" y="334.55" width="6.4" height="0.95" fill="#222"/><text x="392.9" y="344.2" font-size="9.9" textLength="47.3" lengthAdjust="spacingAndGlyphs">of Samples</text></g>
<g font-weight="bold" fill="#111"><text x="65.7" y="167.7" font-family='"Liberation Serif", serif' font-style="italic" font-size="11.3" stroke="#111" stroke-width="0.12">X</text><rect x="66.5" y="158.05" width="6.4" height="0.95" fill="#222"/><text x="76.8" y="167.7" font-size="9.9" textLength="47.3" lengthAdjust="spacingAndGlyphs">of Samples</text></g>
<g font-weight="bold" fill="#111"><text x="62.4" y="261.4" font-family='"Liberation Serif", serif' font-style="italic" font-size="11.3" stroke="#111" stroke-width="0.12">X</text><rect x="63.2" y="251.75" width="6.4" height="0.95" fill="#222"/><text x="73.5" y="261.4" font-size="9.9" textLength="47.3" lengthAdjust="spacingAndGlyphs">of Samples</text></g>
<g font-weight="bold" fill="#111"><text x="618.4" y="159.6" font-family='"Liberation Serif", serif' font-style="italic" font-size="11.3" stroke="#111" stroke-width="0.12">X</text><rect x="619.2" y="149.95" width="6.4" height="0.95" fill="#222"/><text x="629.5" y="159.6" font-size="9.9" textLength="47.3" lengthAdjust="spacingAndGlyphs">of Samples</text></g>
<g font-weight="bold" fill="#111"><text x="621.7" y="267.7" font-family='"Liberation Serif", serif' font-style="italic" font-size="11.3" stroke="#111" stroke-width="0.12">X</text><rect x="622.5" y="258.05" width="6.4" height="0.95" fill="#222"/><text x="632.8" y="267.7" font-size="9.9" textLength="47.3" lengthAdjust="spacingAndGlyphs">of Samples</text></g>
</g>
</svg>
</body></html>
